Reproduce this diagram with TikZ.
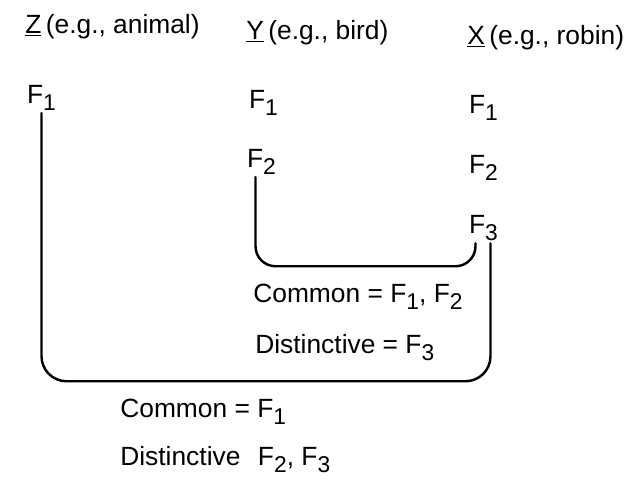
\documentclass[tikz,border=0pt]{standalone}
\usepackage{fontspec}
\setmainfont{Liberation Sans}
\usepackage{tikz}
\usetikzlibrary{calc}
\newcommand{\feat}[1]{F\raisebox{-4.5pt}{\fontsize{13}{13}\selectfont #1}}
\tikzset{
  heading/.style={anchor=base west, inner sep=0pt, font=\fontsize{15}{18}\selectfont},
  feature/.style={anchor=base west, inner sep=1pt, font=\fontsize{15}{18}\selectfont},
  remark/.style={anchor=base west, inner sep=0pt, font=\fontsize{15}{18}\selectfont},
  bracket/.style={line width=1.4pt, line cap=round},
}

\begin{document}
\begin{tikzpicture}

  \useasboundingbox (0,0) rectangle (12.86,-9.6);

  % column headings
  \node[heading] (zhead) at (0.50,-0.66) {\underline{Z}\,(e.g., animal)};
  \node[heading] (yhead) at (4.92,-0.78) {\underline{Y}\,(e.g., bird)};
  \node[heading] (xhead) at (9.34,-0.88) {\underline{X}\,(e.g., robin)};

  % features
  \node[feature] (f1z) at (0.50,-2.06) {\feat{1}};
  \node[feature] (f1y) at (4.94,-2.16) {\feat{1}};
  \node[feature] (f1x) at (9.34,-2.26) {\feat{1}};
  \node[feature] (f2y) at (4.90,-3.34) {\feat{2}};
  \node[feature] (f2x) at (9.34,-3.46) {\feat{2}};
  \node[feature] (f3x) at (9.34,-4.66) {\feat{3}};

  % X vs Y
  \draw[bracket, rounded corners=0.4cm] ([xshift=-0.12cm]f2y.south)
    |- ([xshift=-0.16cm,yshift=-0.46cm]f3x.south) -- ([xshift=-0.16cm]f3x.south);
  \node[remark] (comxy) at (5.06,-6.04) {Common = \feat{1}, \feat{2}};
  \node[remark] (disxy) at (5.10,-7.06) {Distinctive = \feat{3}};

  % X vs Z
  \draw[bracket, rounded corners=0.5cm] (f1z.south)
    |- ([xshift=0.14cm,yshift=-2.76cm]f3x.south) -- ([xshift=0.14cm]f3x.south);
  \node[remark] (comxz) at (2.40,-8.34) {Common = \feat{1}};
  \node[remark] (disxz) at (2.40,-9.30) {Distinctive\hspace{0.35cm}\feat{2}, \feat{3}};

\end{tikzpicture}
\end{document}
